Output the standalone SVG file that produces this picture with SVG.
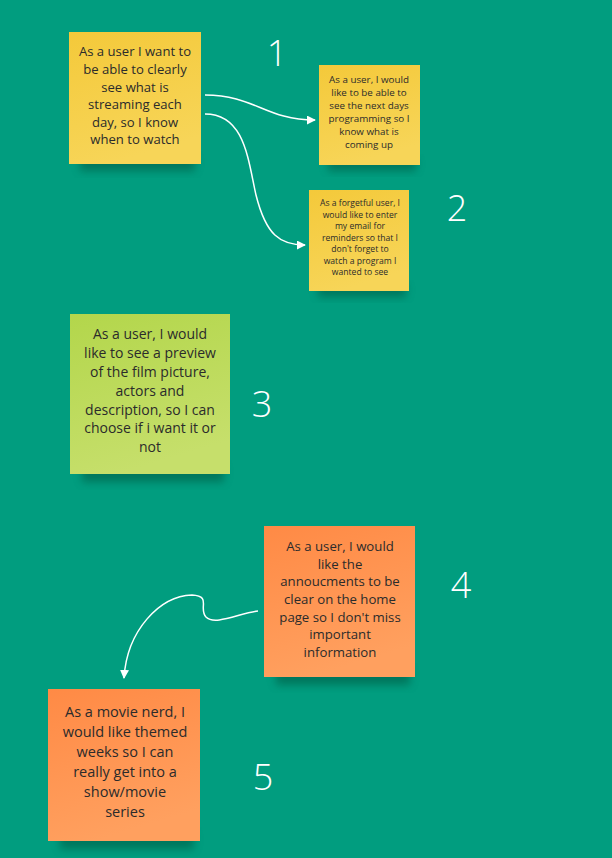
<svg xmlns="http://www.w3.org/2000/svg" width="612" height="858" viewBox="0 0 612 858">
<defs>
<linearGradient id="gy" x1="0" y1="0" x2="0.3" y2="1"><stop offset="0" stop-color="#f4c93a"/><stop offset="1" stop-color="#f7d558"/></linearGradient>
<linearGradient id="gg" x1="0" y1="0" x2="0.3" y2="1"><stop offset="0" stop-color="#b3d64b"/><stop offset="1" stop-color="#c6df6b"/></linearGradient>
<linearGradient id="go" x1="0" y1="0" x2="0.3" y2="1"><stop offset="0" stop-color="#ff8a45"/><stop offset="1" stop-color="#ffa05f"/></linearGradient>
<filter id="sh" x="-20%" y="-20%" width="140%" height="160%"><feGaussianBlur stdDeviation="4"/></filter>
<marker id="ar" viewBox="0 0 10 10" refX="9" refY="5" markerWidth="9" markerHeight="9" markerUnits="userSpaceOnUse" orient="auto"><path d="M0,0 L10,5 L0,10 Z" fill="#ffffff"/></marker>
</defs>
<style>
.t{font-family:"Open Sans","Noto Sans","Liberation Sans",sans-serif;fill:#2b2b2b;text-anchor:middle}
.n{font-family:"Open Sans","Noto Sans","Liberation Sans",sans-serif;fill:#ffffff;font-size:36px;font-weight:300;text-anchor:middle}
.c{fill:none;stroke:#ffffff;stroke-width:1.5}
.s{fill:#00563f;opacity:0.55;filter:url(#sh)}
</style>
<rect width="612" height="858" fill="#019d7f"/>
<g id="connectors">
<path class="c" d="M205,95 C255,95 265,120 315,120" marker-end="url(#ar)"/>
<path class="c" d="M205,114 C245,114 248,160 256,195 C266,235 280,245 305,245" marker-end="url(#ar)"/>
<path class="c" d="M258,611 C240,613 215,626 206,617 C198,608 212,596 192,595 C160,596 127,630 124,678" marker-end="url(#ar)"/>
</g>
<g id="note1">
<rect class="s" x="80" y="155" width="115" height="16"/>
<rect x="69" y="32" width="132" height="132" fill="url(#gy)"/>
<text class="t" font-size="13.1"><tspan x="135" y="56">As a user I want to</tspan><tspan x="135" y="74">be able to clearly</tspan><tspan x="135" y="92">see what is</tspan><tspan x="135" y="109">streaming each</tspan><tspan x="135" y="127">day, so I know</tspan><tspan x="135" y="144">when to watch</tspan></text>
</g>
<g id="note2">
<rect class="s" x="328" y="157" width="88" height="14"/>
<rect x="319" y="65" width="101" height="100" fill="url(#gy)"/>
<text class="t" font-size="9.8"><tspan x="369" y="82.5">As a user, I would</tspan><tspan x="369" y="95.5">like to be able to</tspan><tspan x="369" y="108.5">see the next days</tspan><tspan x="369" y="121.5">programming so I</tspan><tspan x="369" y="134.5">know what is</tspan><tspan x="369" y="147.5">coming up</tspan></text>
</g>
<g id="note3">
<rect class="s" x="318" y="283" width="88" height="14"/>
<rect x="309" y="190" width="100" height="101" fill="url(#gy)"/>
<text class="t" font-size="8.6"><tspan x="360" y="206">As a forgetful user, I</tspan><tspan x="360" y="217.5">would like to enter</tspan><tspan x="360" y="229">my email for</tspan><tspan x="360" y="240.5">reminders so that I</tspan><tspan x="360" y="252">don't forget to</tspan><tspan x="360" y="263.5">watch a program I</tspan><tspan x="360" y="275">wanted to see</tspan></text>
</g>
<g id="note4">
<rect class="s" x="82" y="464" width="142" height="18"/>
<rect x="70" y="314" width="160" height="160" fill="url(#gg)"/>
<text class="t" font-size="14"><tspan x="150" y="339">As a user, I would</tspan><tspan x="150" y="358">like to see a preview</tspan><tspan x="150" y="377">of the film picture,</tspan><tspan x="150" y="395.5">actors and</tspan><tspan x="150" y="414.5">description, so I can</tspan><tspan x="150" y="433">choose if i want it or</tspan><tspan x="150" y="452">not</tspan></text>
</g>
<g id="note5">
<rect class="s" x="276" y="667" width="134" height="18"/>
<rect x="264" y="526" width="151" height="151" fill="url(#go)"/>
<text class="t" font-size="13.2"><tspan x="340" y="551">As a user, I would</tspan><tspan x="340" y="568.5">like the</tspan><tspan x="340" y="586">annoucments to be</tspan><tspan x="340" y="603.5">clear on the home</tspan><tspan x="340" y="621.5">page so I don't miss</tspan><tspan x="340" y="639">important</tspan><tspan x="340" y="657">information</tspan></text>
</g>
<g id="note6">
<rect class="s" x="60" y="831" width="134" height="18"/>
<rect x="48" y="689" width="152" height="152" fill="url(#go)"/>
<text class="t" font-size="14.5"><tspan x="125" y="717">As a movie nerd, I</tspan><tspan x="125" y="736.5">would like themed</tspan><tspan x="125" y="756.5">weeks so I can</tspan><tspan x="125" y="776.5">really get into a</tspan><tspan x="125" y="797">show/movie</tspan><tspan x="125" y="817">series</tspan></text>
</g>
<g id="labels">
<text class="n" x="277" y="66">1</text>
<text class="n" x="457" y="221">2</text>
<text class="n" x="262" y="417">3</text>
<text class="n" x="461" y="598">4</text>
<text class="n" x="263" y="790">5</text>
</g>
</svg>
